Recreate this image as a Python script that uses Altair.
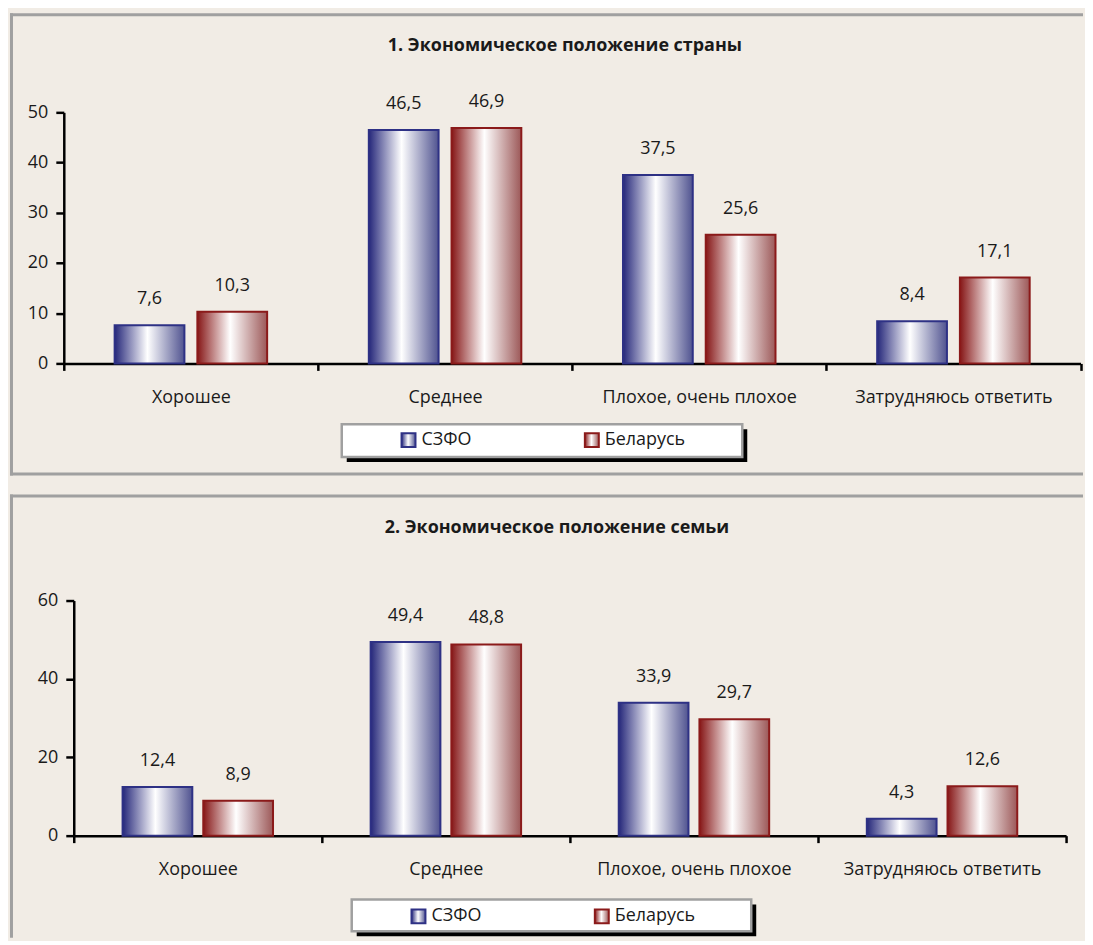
import altair as alt
import pandas as pd

categories = ["Хорошее", "Среднее", "Плохое, очень плохое", "Затрудняюсь ответить"]
series = ["СЗФО", "Беларусь"]
country_szfo = [7.6, 46.5, 37.5, 8.4]
country_by = [10.3, 46.9, 25.6, 17.1]
family_szfo = [12.4, 49.4, 33.9, 4.3]
family_by = [8.9, 48.8, 29.7, 12.6]
titles = ["1. Экономическое положение страны", "2. Экономическое положение семьи"]
y_ticks_1 = [0, 10, 20, 30, 40, 50]
y_ticks_2 = [0, 20, 40, 60]

BG = "#f1ece5"
FONT = "Open Sans"
TXT = "#1a1a1a"
BORDER = "#a0a0a0"
W = 1077


def grad(c0, c2):
    return alt.ExprRef(
        expr="{gradient:'linear',x1:0,y1:0,x2:1,y2:0,stops:[{offset:0,color:'%s'},"
        "{offset:0.47,color:'#ffffff'},{offset:1,color:'%s'}]}" % (c0, c2)
    )


def panel(title, v1, v2, ymax, yticks, H, x0, x1, y0, y1, pin, pout,
          tx, ty, box, lx, ly, top, bottom):
    df = pd.DataFrame({
        "category": categories * 2,
        "series": [series[0]] * 4 + [series[1]] * 4,
        "value": v1 + v2,
    })
    base = alt.Chart(df).transform_calculate(
        label="replace(format(datum.value, '.1f'), '.', ',')"
    )
    xenc = alt.X(
        "category:N", sort=categories,
        scale=alt.Scale(range=[x0, x1], paddingInner=0, paddingOuter=0),
        axis=alt.Axis(title=None, labelAngle=0, tickBand="extent", offset=-(H - y0),
                      domainColor="black", domainWidth=2.5, tickColor="black",
                      tickWidth=2.5, tickSize=7, labelPadding=18, labelLimit=400,
                      labelFont=FONT, labelFontSize=18, labelColor=TXT),
    )
    xo = alt.XOffset(
        "series:N", sort=series,
        scale=alt.Scale(domain=series, paddingInner=pin, paddingOuter=pout),
    )
    yenc = alt.Y(
        "value:Q",
        scale=alt.Scale(domain=[0, ymax], range=[y0, y1], nice=False, zero=True),
        axis=alt.Axis(title=None, values=yticks, offset=-x0, grid=False,
                      domainColor="black", domainWidth=2.5, tickColor="black",
                      tickWidth=2.5, tickSize=8, labelPadding=8,
                      labelFont=FONT, labelFontSize=18, labelColor=TXT),
    )
    leg = alt.Legend(orient="none", legendX=lx, legendY=ly, direction="horizontal",
                     title=None, symbolType="square", symbolSize=196,
                     symbolStrokeWidth=2, labelFont=FONT, labelFontSize=18,
                     labelColor=TXT, labelOffset=4, columnPadding=109, padding=0)
    bars = base.mark_bar(strokeWidth=2).encode(
        x=xenc, xOffset=xo, y=yenc,
        color=alt.Color("series:N", sort=series,
                        scale=alt.Scale(domain=series,
                                        range=[grad("#25277a", "#505390"),
                                               grad("#861616", "#9c5858")]),
                        legend=leg),
        stroke=alt.Stroke("series:N", sort=series,
                          scale=alt.Scale(domain=series, range=["#2e3185", "#8b1a1a"]),
                          legend=leg),
    )
    labels = base.mark_text(font=FONT, fontSize=18, color=TXT, baseline="middle",
                            dy=-26).encode(
        x=xenc, xOffset=xo, y=yenc, text="label:N"
    )
    one = pd.DataFrame({"t": [title]})
    bx0, bx1, by0, by1 = box
    shadow = alt.Chart(one).mark_rect(color="black").encode(
        x=alt.value(bx0 + 5), x2=alt.value(bx1 + 5),
        y=alt.value(by0 + 5), y2=alt.value(by1 + 5))
    frame = alt.Chart(one).mark_rect(fill="white", stroke=BORDER,
                                     strokeWidth=2.5).encode(
        x=alt.value(bx0), x2=alt.value(bx1), y=alt.value(by0), y2=alt.value(by1))
    ttl = alt.Chart(one).mark_text(font=FONT, fontSize=18, fontWeight="bold",
                                   color=TXT, align="center",
                                   baseline="middle").encode(
        x=alt.value(tx), y=alt.value(ty), text="t:N")
    ybot = bottom if bottom is not None else H
    left_line = alt.Chart(one).mark_rule(color=BORDER, strokeWidth=3).encode(
        x=alt.value(1.5), y=alt.value(top - 1.5), y2=alt.value(ybot + 1.5))
    top_line = alt.Chart(one).mark_rule(color=BORDER, strokeWidth=3).encode(
        x=alt.value(0), x2=alt.value(W), y=alt.value(top))
    layers = [left_line, top_line]
    if bottom is not None:
        layers.append(alt.Chart(one).mark_rule(color=BORDER, strokeWidth=3).encode(
            x=alt.value(0), x2=alt.value(W), y=alt.value(bottom)))
    layers += [shadow, frame, bars, labels, ttl]
    return alt.layer(*layers).properties(width=W, height=H)


p1 = panel(titles[0], country_szfo, country_by, 50, y_ticks_1, 468,
           54, 1074.5, 355, 103, 13 / 83, 51 / 83,
           557, 36, (333, 735, 416, 449), 391, 423, 5, 466)
p2 = panel(titles[1], family_szfo, family_by, 60, y_ticks_2, 446,
           64, 1060, 345, 109, 11 / 81, 49 / 81,
           549, 36, (343, 744, 409, 441), 401, 417, 4, None)

chart = alt.vconcat(p1, p2, spacing=15).resolve_scale(
    color="independent", stroke="independent", xOffset="independent"
).properties(background=BG, padding=0).configure_view(
    stroke=None, strokeWidth=0, fill=BG
)

chart.save("out.html", embed_options={"renderer": "svg", "actions": False})
